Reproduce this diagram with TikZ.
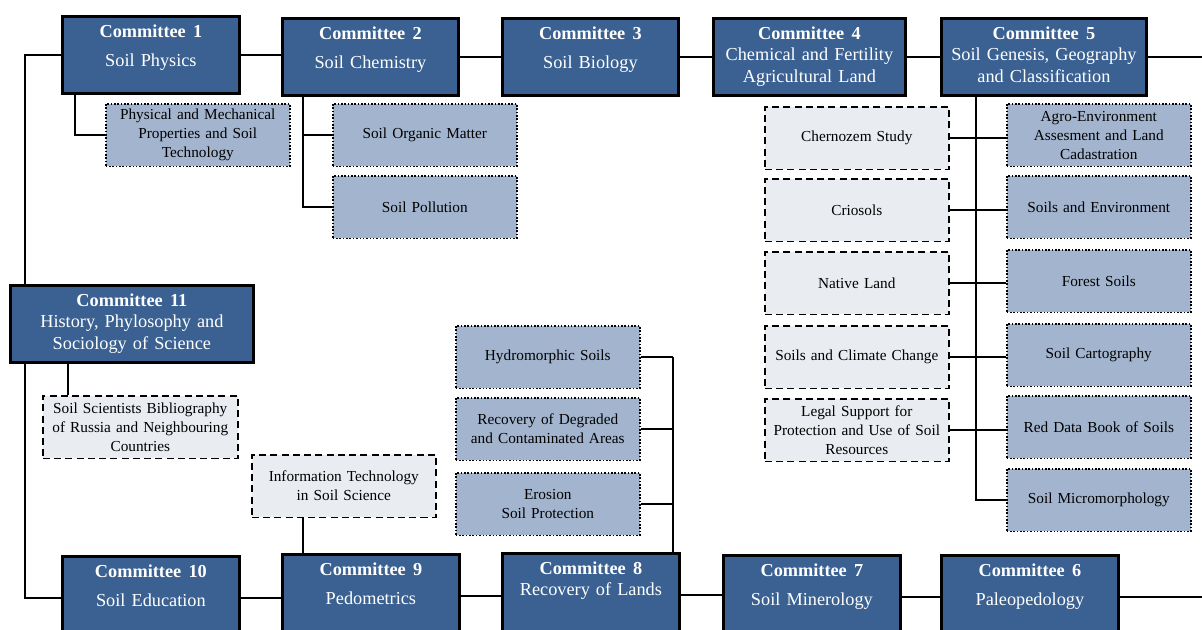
\documentclass[tikz,border=0pt]{standalone}
\usepackage{fontspec}
\setmainfont{Liberation Serif}
\usepackage{tikz}
\usetikzlibrary{positioning, calc}
\definecolor{cmteblue}{HTML}{3A6191}
\definecolor{subblue}{HTML}{A3B5CE}
\definecolor{subgray}{HTML}{E9ECF1}
\newlength{\cmteh}
\setlength{\cmteh}{43.8pt}
% committee text: gap, number, name
\newcommand{\cmte}[3][4.2pt]{\parbox[c][\cmteh][t]{\linewidth}{\centering
  \rule{0pt}{11.9pt}\textbf{Committee\hspace{0.4em}#2}\\[#1]#3}}
\tikzset{
  cmtebox/.style={draw=black, line width=1.6pt, fill=cmteblue, text=white,
    anchor=north west, inner sep=0pt, font=\fontsize{10.4}{12.3}\selectfont},
  lowrow/.style={execute at begin node={\setlength{\cmteh}{47.8pt}}},
  subbox/.style={draw=black, line width=0.9pt, densely dotted, fill=subblue,
    anchor=north west, minimum width=3.68cm, minimum height=1.25cm,
    text width=3.45cm, align=center, inner xsep=2pt, inner ysep=0pt,
    font=\fontsize{8.7}{10.8}\selectfont},
  dashbox/.style={subbox, dash pattern=on 4pt off 2.4pt, fill=subgray},
  link/.style={line width=1.1pt}
}

\begin{document}
\begin{tikzpicture}[x=0.2mm, y=-0.2mm]
  \clip (0,0) rectangle (1202,630);
  \coordinate (trunk) at (25,0);
  \coordinate (edge) at (1202,0);
  % top row
  \node[cmtebox, text width=3.54cm] (c1) at (61,15) {\cmte{1}{Soil Physics}};
  \node[cmtebox, text width=3.52cm] (c2) at (281,17) {\cmte{2}{Soil Chemistry}};
  \node[cmtebox, text width=3.52cm] (c3) at (501,17) {\cmte{3}{Soil Biology}};
  \node[cmtebox, text width=3.84cm] (c4) at (712,17)
      {\cmte[0pt]{4}{Chemical and Fertility\\Agricultural Land}};
  \node[cmtebox, text width=4.1cm] (c5) at (940,17)
      {\cmte[0pt]{5}{Soil Genesis, Geography\\and Classification}};
  \node[cmtebox, text width=4.86cm] (c11) at (9,284)
      {\cmte[0pt]{11}{History, Phylosophy and\\Sociology of Science}};
  % bottom row: (name, x, y, number, gap, title)
  \foreach \nm/\x/\y/\num/\gap/\txt in {c10/61/555/10/4.2pt/Soil Education,
      c9/281/553/9/4.2pt/Pedometrics, c8/501/552/8/0pt/Recovery of Lands,
      c7/722/554/7/4.2pt/Soil Minerology, c6/940/554/6/4.2pt/Paleopedology}
    \node[cmtebox, lowrow, text width=3.54cm] (\nm) at (\x,\y) {\cmte[\gap]{\num}{\txt}};
  \foreach \a/\b in {c1/c2, c2/c3, c3/c4, c4/c5, c10/c9, c9/c8, c8/c7, c7/c6}
    \draw[link] (\a.east) -- (\a.east -| \b.west);
  \draw[link] (c5.east) -- (c5.east -| edge);
  \draw[link] (c6.east) -- (c6.east -| edge);
  \draw[link] (c1.west) -| (trunk |- c11.north);
  \draw[link] (trunk |- c11.south) |- (c10.west);

  % committee 1 and 2
  \node[subbox] (phys) at (105,103) {Physical and Mechanical\\Properties and Soil\\Technology};
  \node[subbox] (organic) at (332,103) {Soil Organic Matter};
  \node[subbox] (pollution) at (332,175) {Soil Pollution};
  \draw[link] ($(c1.south west)+(14,0)$) |- (phys.west);
  \draw[link] ($(c2.south west)+(22,0)$) |- (organic.west);
  \draw[link] ($(c2.south west)+(22,0)$) |- (pollution.west);

  % committee 5
  \coordinate (t5) at ($(c5.south west)+(36,0)$);
  \foreach \nm/\y/\txt in {agro/103/{Agro-Environment\\Assesment and Land\\Cadastration},
      soilenv/175/Soils and Environment, forest/249/Forest Soils,
      carto/323/Soil Cartography, reddata/395/Red Data Book of Soils,
      micro/468/Soil Micromorphology}
    \node[subbox] (\nm) at (1006,\y) {\txt};
  \draw[link] (t5) |- (micro.west);
  \foreach \nm/\y/\txt/\pr in {chern/106/Chernozem Study/agro, crio/178/Criosols/soilenv,
      native/251/Native Land/forest, climate/325/Soils and Climate Change/carto,
      legal/398/{Legal Support for\\Protection and Use of Soil\\Resources}/reddata} {
    \node[dashbox] (\nm) at (764,\y) {\txt};
    \draw[link] (\nm.east) -- (\nm.east -| \pr.west);
  }

  % committee 11 and 9
  \node[dashbox, minimum width=3.9cm, text width=3.7cm] (biblio) at (42,395)
      {Soil Scientists Bibliography\\of Russia and Neighbouring\\Countries};
  \coordinate (t11) at ($(c11.south west)+(59,0)$);
  \draw[link] (t11) -- (t11 |- biblio.north);
  \node[dashbox] (infotech) at (251,454) {Information Technology\\in Soil Science};
  \coordinate (t9) at ($(c9.north west)+(22,0)$);
  \draw[link] (t9) -- (t9 |- infotech.south);

  % committee 8
  \coordinate (t8) at ($(c8.north east)+(-8,0)$);
  \foreach \nm/\y/\txt in {hydro/325/Hydromorphic Soils,
      degraded/397/{Recovery of Degraded\\and Contaminated Areas},
      erosion/472/{Erosion\\Soil Protection}} {
    \node[subbox] (\nm) at (455,\y) {\txt};
    \draw[link] (\nm.east) -- (\nm.east -| t8);
  }
  \draw[link] (t8 |- hydro.east) -- (t8);
\end{tikzpicture}
\end{document}
